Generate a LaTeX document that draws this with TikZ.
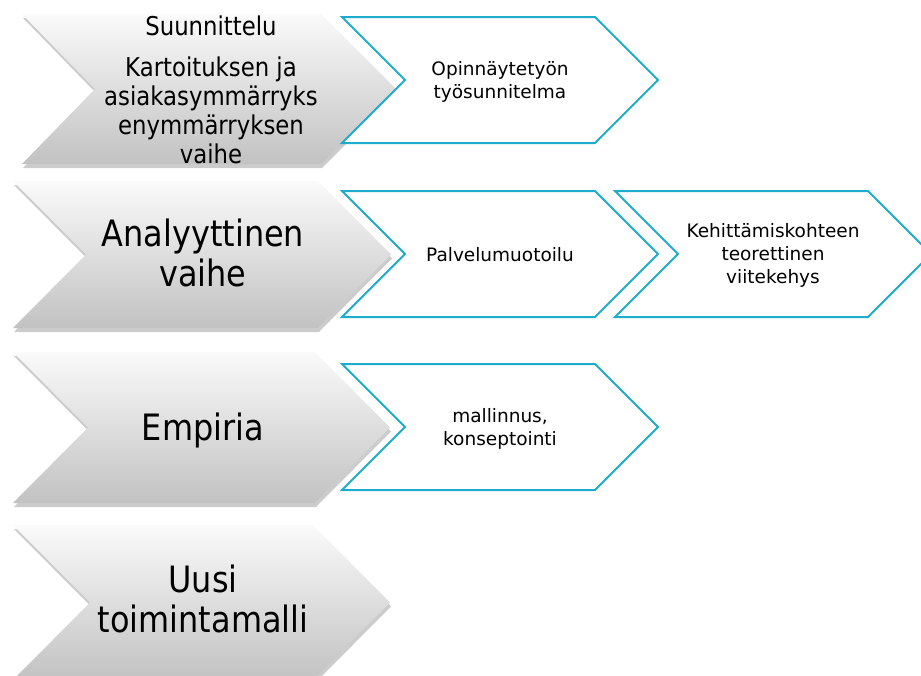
\documentclass[tikz,border=0pt]{standalone}
\usepackage{fontspec}
\setmainfont{DejaVu Sans}
\newfontfamily\phasefont{DejaVu Sans}[FakeStretch=0.88]
\usetikzlibrary{shadows}
\definecolor{taskblue}{RGB}{30,172,204}
\begin{document}
\begin{tikzpicture}[x=1pt,y=-1pt,
    phase/.style={top color=gray!4,bottom color=gray!48,
      drop shadow={shadow xshift=1pt,shadow yshift=-4pt,opacity=.4,fill=gray}},
    task/.style={draw=taskblue,line width=2pt,fill=white},
    big/.style={inner sep=0pt,align=center,font=\phasefont\fontsize{36.3}{40}\selectfont},
    mid/.style={inner sep=0pt,align=center,font=\phasefont\fontsize{25.9}{29}\selectfont},
    small/.style={inner sep=0pt,align=center,font=\fontsize{18.5}{23}\selectfont}]
      \useasboundingbox (0,0) rectangle (921,675);
      \path[phase] (22,14) -- (321,14) -- (396,89) -- (321,164) -- (22,164) -- (95,89) -- cycle;
      \path[phase] (13,181) -- (318,181) -- (391,254.5) -- (318,328) -- (13,328) -- (86,254.5) -- cycle;
      \path[phase] (13,352) -- (315,352) -- (390,427.5) -- (315,503) -- (13,503) -- (88,427.5) -- cycle;
      \path[phase] (13,525) -- (313,525) -- (390,602.5) -- (313,680) -- (13,680) -- (90,602.5) -- cycle;
      \draw[task] (342,17) -- (595,17) -- (658,80) -- (595,143) -- (342,143) -- (405,80) -- cycle;
      \draw[task] (342,191) -- (595,191) -- (658,254) -- (595,317) -- (342,317) -- (405,254) -- cycle;
      \draw[task] (615,191) -- (868,191) -- (931,254) -- (868,317) -- (615,317) -- (678,254) -- cycle;
      \draw[task] (342,364) -- (595,364) -- (658,427) -- (595,490) -- (342,490) -- (405,427) -- cycle;
      \node[mid,anchor=base] (suunnittelu) at (211,35) {Suunnittelu};
      \node[mid] (kartoitus) at (211,110) {Kartoituksen ja\\asiakasymmärryks\\enymmärryksen\\vaihe};
      \node[big] (analyyttinen) at (203,253) {Analyyttinen\\vaihe};
      \node[big,anchor=base] (empiria) at (203,440) {Empiria};
      \node[big] (uusi) at (203,599) {Uusi\\toimintamalli};
      \node[small] (opinnayte) at (500,81.5) {Opinnäytetyön\\työsunnitelma};
      \node[small,anchor=base] (palvelu) at (500,261) {Palvelumuotoilu};
      \node[small] (viitekehys) at (773,255) {Kehittämiskohteen\\teorettinen\\viitekehys};
      \node[small] (mallinnus) at (500,429) {mallinnus,\\konseptointi};
\end{tikzpicture}
\end{document}
